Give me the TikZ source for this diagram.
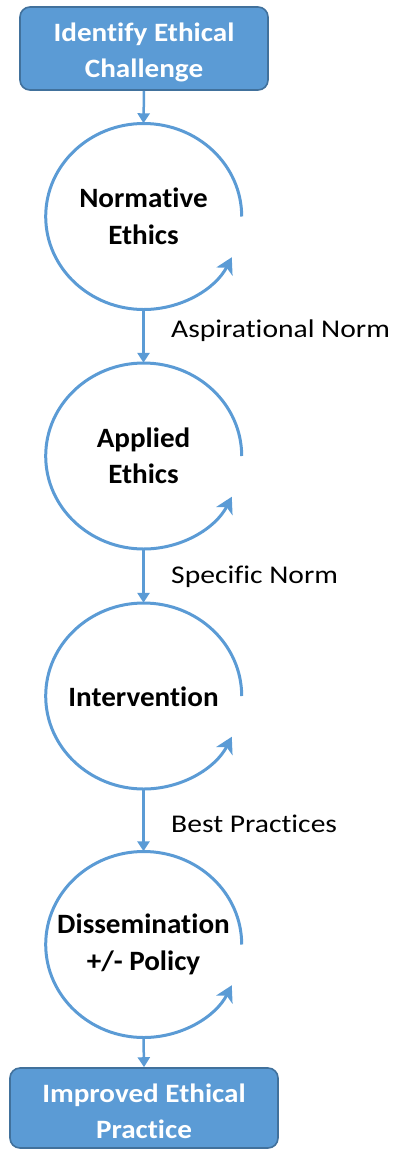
\documentclass[tikz,border=0pt]{standalone}
\usepackage{fontspec}
\usepackage{graphicx}
\setmainfont{Carlito}[Ligatures=NoCommon]
\usetikzlibrary{arrows.meta,shapes.geometric}
\definecolor{stageblue}{HTML}{5B9BD5}
\definecolor{stageedge}{HTML}{41719C}
% horizontally widened text line
\newcommand{\xwide}[2]{\scalebox{#1}[1]{#2}}
\begin{document}
\begin{tikzpicture}[x=1pt,y=1pt,
  endbox/.style={draw=stageedge, line width=1.6pt, fill=stageblue, rounded corners=10pt, inner sep=0pt},
  boxtext/.style={text=white, font=\bfseries\fontsize{26.5}{36}\selectfont, align=center, inner sep=0pt},
  ring/.style={ellipse, minimum width=196pt, minimum height=186pt, inner sep=0pt},
  stagetext/.style={font=\bfseries\fontsize{28}{36.5}\selectfont, align=center, inner sep=0pt},
  cycle/.style={draw=stageblue, line width=3pt, -{Stealth[length=16pt,width=18pt,inset=4.5pt]}},
  link/.style={draw=stageblue, line width=2.5pt, -{Triangle[length=10pt,width=12pt]}},
  note/.style={anchor=west, font=\fontsize{25.5}{30}\selectfont, inner sep=0pt}]
\useasboundingbox (0,0) rectangle (396,-1149);

% start and end boxes
\node[endbox, minimum width=248pt, minimum height=83pt] (start) at (144,-48.5) {};
\node[boxtext] (starttext) at ([yshift=-4pt]start.center)
  {\xwide{1.1}{Identify Ethical}\\\xwide{1.1}{Challenge}};
\node[endbox, minimum width=268pt, minimum height=80pt] (finish) at (144,-1108) {};
\node[boxtext] (finishtext) at ([yshift=-3pt]finish.center)
  {\xwide{1.1}{Improved Ethical}\\\xwide{1.1}{Practice}};

% stages of the cycle
\node[ring] (s1) at (143.5,-216.5) {};
\node[ring] (s2) at (143.5,-456) {};
\node[ring] (s3) at (143.5,-696) {};
\node[ring] (s4) at (143.5,-944.5) {};
\node[stagetext] (t1) at (s1.center) {\xwide{1.04}{Normative}\\\xwide{1.04}{Ethics}};
\node[stagetext] (t2) at (s2.center) {\xwide{1.04}{Applied}\\\xwide{1.04}{Ethics}};
\node[stagetext] (t3) at ([yshift=-1pt]s3.center) {\xwide{1.04}{Intervention}};
\node[stagetext] (t4) at (s4.center) {\xwide{1.04}{Dissemination}\\\xwide{1.04}{+/- Policy}};

% circular arrows around each stage
\foreach \s in {s1,s2,s3,s4}
  \draw[cycle] (\s.east) arc[start angle=0, end angle=334, x radius=98pt, y radius=93pt];

% connectors
\draw[link] (start.south) -- (s1.north);
\draw[link] (s1.south) -- (s2.north);
\draw[link] (s2.south) -- (s3.north);
\draw[link] (s3.south) -- (s4.north);
\draw[link] (s4.south) -- (finish.north);

% connector labels
\node[note] (n1) at (171,-331) {\xwide{1.16}{Aspirational Norm}};
\node[note] (n2) at (171,-577) {\xwide{1.16}{Specific Norm}};
\node[note] (n3) at (171,-824) {\xwide{1.16}{Best Practices}};
\end{tikzpicture}
\end{document}
